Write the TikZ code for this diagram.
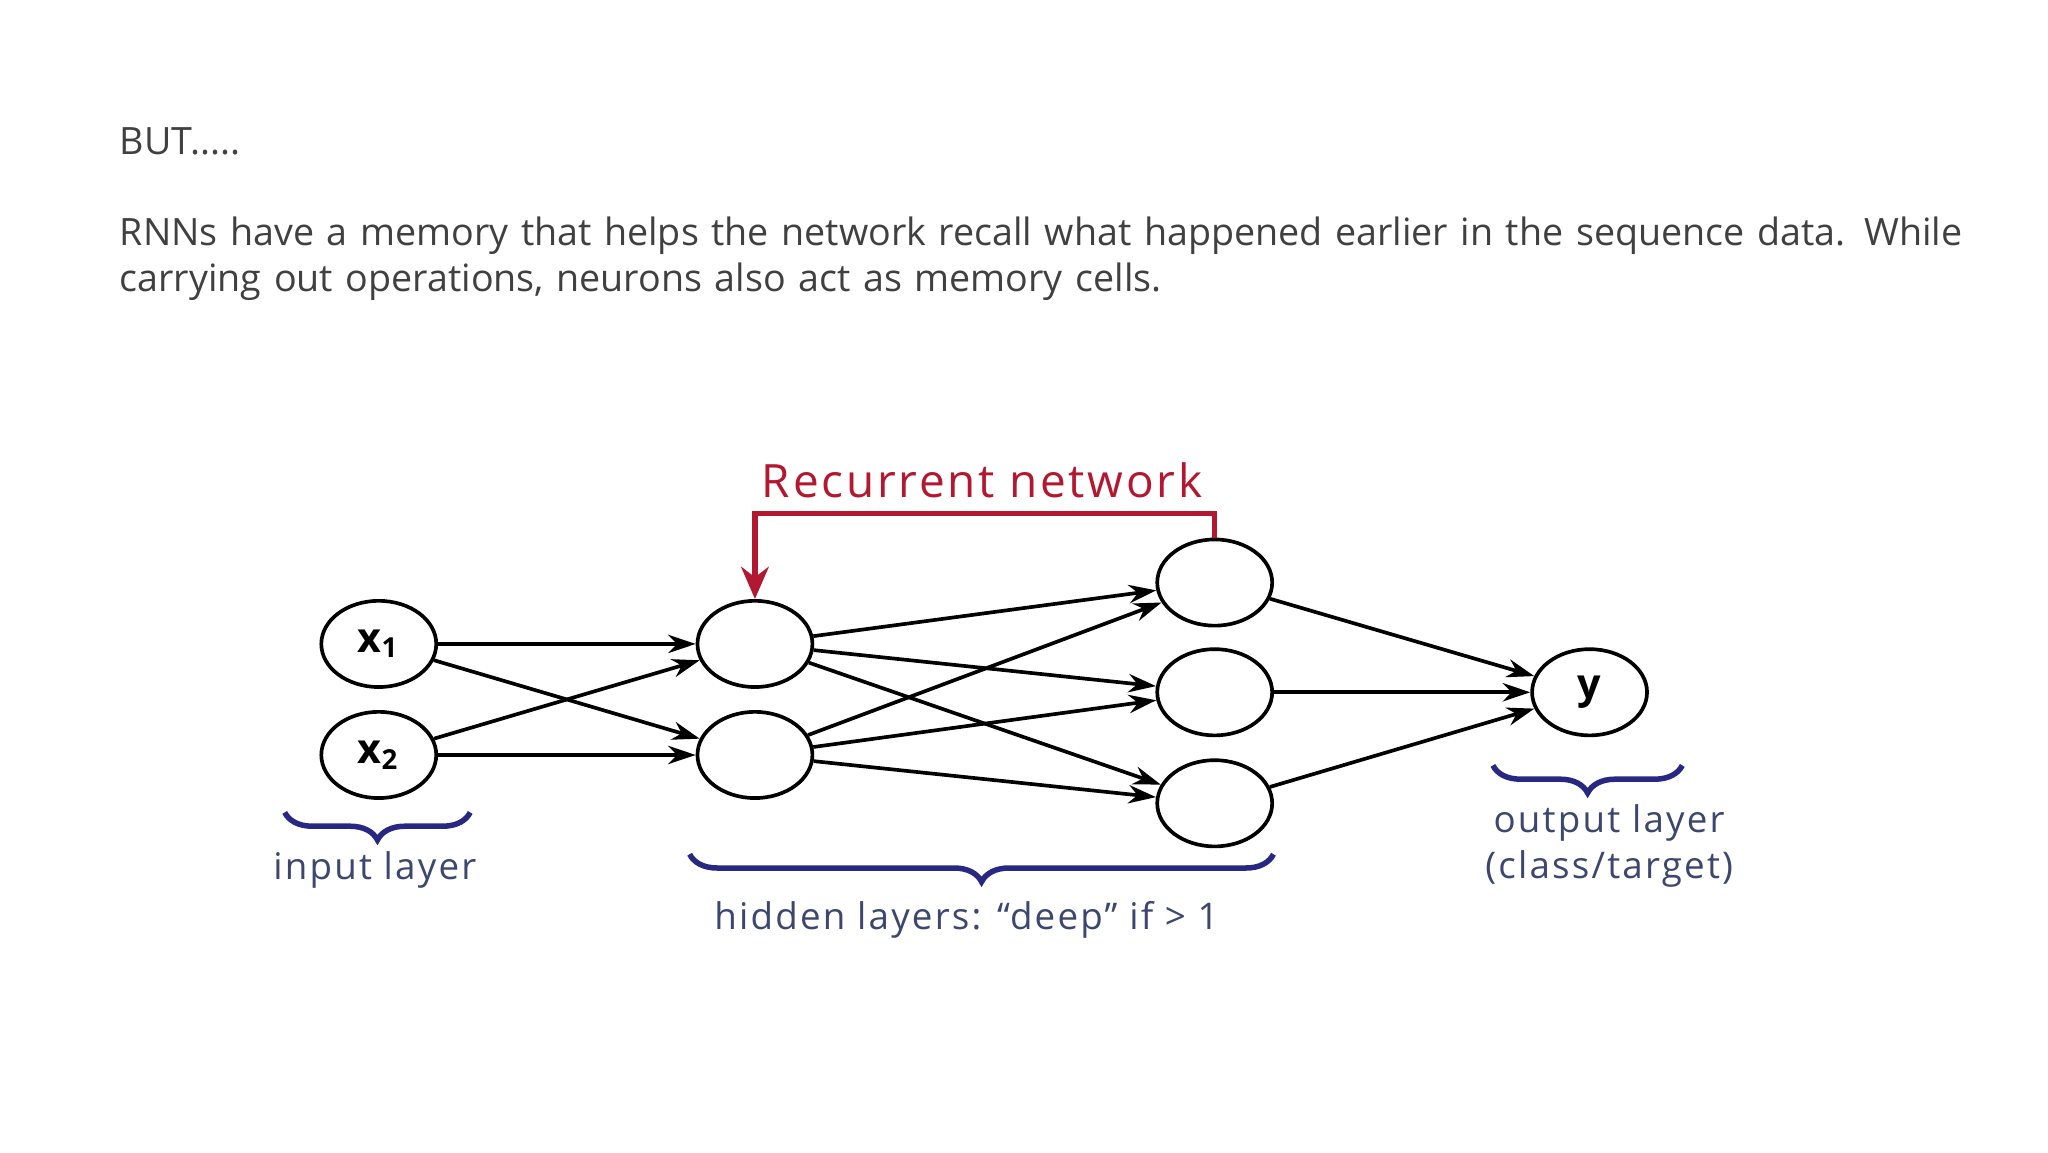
\documentclass[tikz,border=0pt]{standalone}
\usepackage{fontspec}
\setmainfont{Open Sans}
\usetikzlibrary{arrows.meta,decorations.pathreplacing,shapes.geometric}
\definecolor{recred}{RGB}{178,24,48}
\definecolor{bracecol}{RGB}{40,40,130}
\definecolor{labcol}{RGB}{60,70,110}
\definecolor{bodytext}{RGB}{64,64,64}
\tikzset{
  neuron/.style={draw=black, thick, ellipse, minimum width=0.88cm, minimum height=0.66cm, inner sep=0pt, font=\bfseries\fontsize{9}{10}\selectfont},
  link/.style={thick, -{Stealth[length=6pt,width=4pt]}},
  brace/.style={bracecol, very thick, decorate, decoration={brace, mirror, amplitude=6pt}},
  lab/.style={labcol, font=\fontsize{8}{10}\selectfont\addfontfeatures{LetterSpace=6}, align=center}
}
\begin{document}
\begin{tikzpicture}[yscale=-1]
\useasboundingbox (0,0) rectangle (15.68,8.82);
% slide text
\node[anchor=west, bodytext, inner sep=0pt, font=\fontsize{8.2}{10}\selectfont] (but) at (0.91,1.08) {BUT.....};
\node[anchor=north west, bodytext, text width=14.6cm, align=left, inner sep=0pt, font=\fontsize{8.2}{10.1}\selectfont] (para) at (0.91,1.65)
  {RNNs have a memory that helps the network recall what happened earlier in the sequence data. While carrying out operations, neurons also act as memory cells.};
% neurons
\node[neuron] (x1) at (2.90,4.93) {x$_{\mathbf 1}$};
\node[neuron] (x2) at (2.90,5.78) {x$_{\mathbf 2}$};
\node[neuron] (h11) at (5.78,4.93) {};
\node[neuron] (h12) at (5.78,5.78) {};
\node[neuron] (h21) at (9.30,4.46) {};
\node[neuron] (h22) at (9.30,5.30) {};
\node[neuron] (h23) at (9.30,6.15) {};
\node[neuron] (y) at (12.17,5.30) {y};
% connections
\foreach \a in {x1,x2} \foreach \b in {h11,h12} \draw[link] (\a) -- (\b);
\foreach \a in {h11,h12} \foreach \b in {h21,h22,h23} \draw[link] (\a) -- (\b);
\foreach \a in {h21,h22,h23} \draw[link] (\a) -- (y);
% recurrent loop
\node[recred, font=\fontsize{10}{12}\selectfont\addfontfeatures{LetterSpace=6}] (rec) at (7.52,3.68) {Recurrent network};
\coordinate (loopA) at (9.30,3.93);
\coordinate (loopB) at (5.78,3.93);
\draw[recred, very thick, -{Stealth[length=7pt,width=6pt]}] (h21.north) -- (loopA) -- (loopB) -- (h11.north);
% braces
\coordinate (inL) at (2.18,6.22); \coordinate (inR) at (3.60,6.22);
\coordinate (hdL) at (5.28,6.54); \coordinate (hdR) at (9.75,6.54);
\coordinate (otL) at (11.43,5.86); \coordinate (otR) at (12.88,5.86);
\draw[brace] (inL) -- (inR);
\draw[brace] (hdL) -- (hdR);
\draw[brace] (otL) -- (otR);
\node[lab] (inlab) at (2.87,6.66) {input layer};
\node[lab] (hdlab) at (7.40,7.04) {hidden layers: “deep” if > 1};
\node[lab] (otlab) at (12.32,6.48) {output layer\\(class/target)};
\end{tikzpicture}
\end{document}
